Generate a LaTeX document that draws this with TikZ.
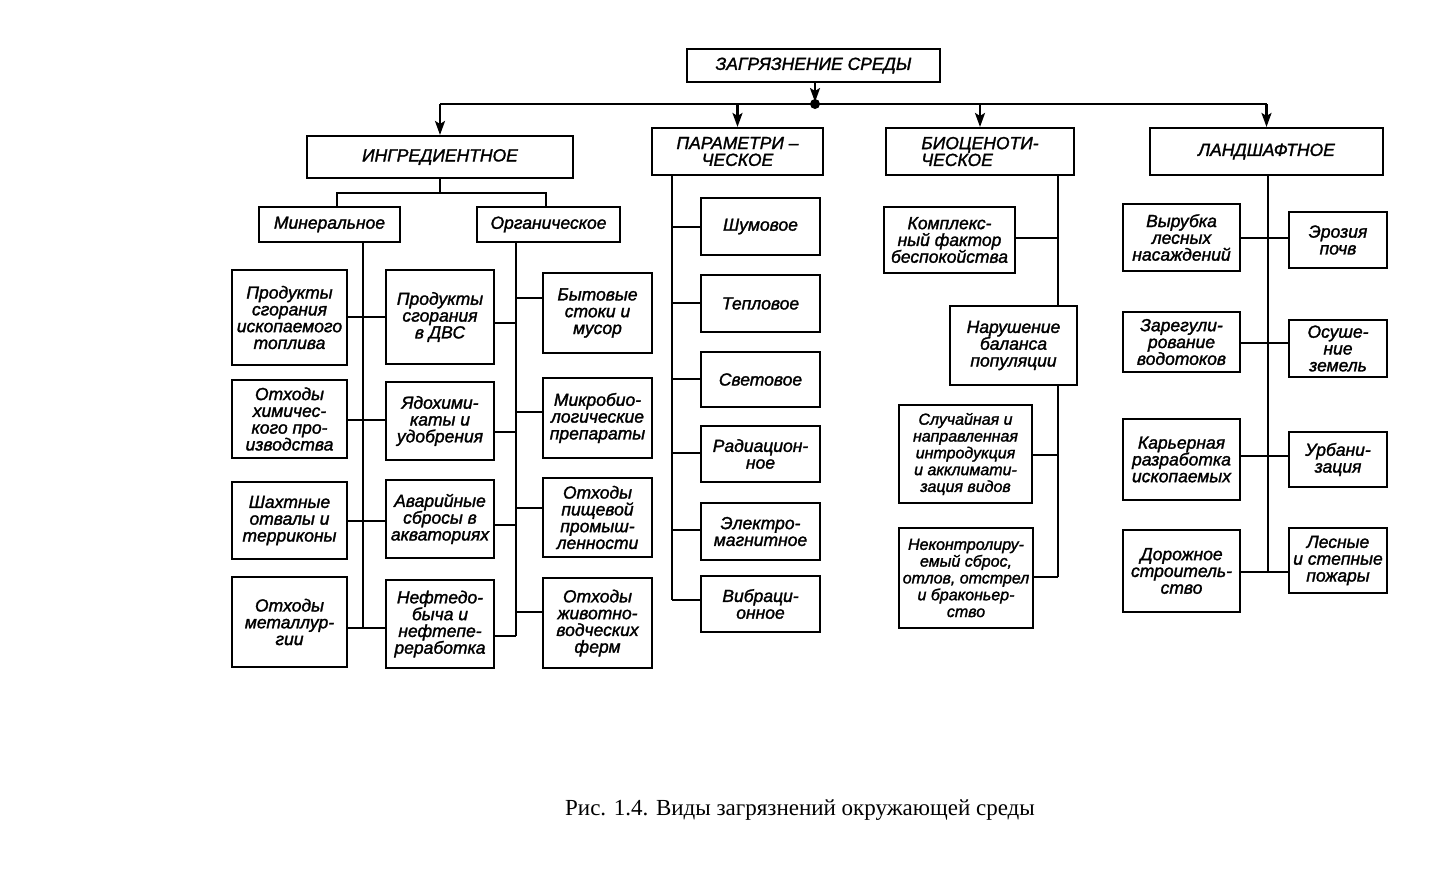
\documentclass[tikz,border=0pt]{standalone}
\usepackage{fontspec}
\setmainfont{Liberation Serif}
\newfontfamily\diag{Liberation Sans Italic}[FakeBold=1.6]
\usetikzlibrary{arrows.meta}
\newcommand\mybox[7][]{\node[bx,#1,minimum width={(#5-#3)*1pt},minimum height={(#6-#4)*1pt}] (#2) at ({(#3+#5)/2},{(#4+#6)/2}) {#7};}
\begin{document}
\begin{tikzpicture}[x=1pt,y=-1pt,
 bx/.style={draw, line width=2.1pt, inner sep=0pt, align=center, font=\diag\fontsize{17.5}{16.8}\selectfont},
 small/.style={font=\diag\fontsize{16}{16.8}\selectfont},
 ln/.style={line width=2.1pt},
 ar/.style={line width=2.1pt, -{Stealth[length=14pt,width=10pt,inset=3pt]}}]
\useasboundingbox (0,0) rectangle (1429,879);
% level 0/1
\mybox{top}{687}{49}{940}{82}{ЗАГРЯЗНЕНИЕ СРЕДЫ}
\mybox{ing}{307}{136}{573}{178}{ИНГРЕДИЕНТНОЕ}
\mybox{par}{652}{128}{823}{175}{ПАРАМЕТРИ –\\ЧЕСКОЕ}
\mybox[align=left]{bio}{886}{128}{1074}{175}{БИОЦЕНОТИ-\\ЧЕСКОЕ}
\mybox{lan}{1150}{128}{1383}{175}{ЛАНДШАФТНОЕ}
% ingredient
\mybox{min}{259}{207}{400}{242}{Минеральное}
\mybox{org}{477}{207}{620}{242}{Органическое}
\mybox{l1}{232}{270}{347}{365}{Продукты\\сгорания\\ископаемого\\топлива}
\mybox{l2}{232}{380}{347}{458}{Отходы\\химичес-\\кого про-\\изводства}
\mybox{l3}{232}{482}{347}{559}{Шахтные\\отвалы и\\терриконы}
\mybox{l4}{232}{577}{347}{667}{Отходы\\металлур-\\гии}
\mybox{m1}{386}{270}{494}{364}{Продукты\\сгорания\\в ДВС}
\mybox{m2}{386}{382}{494}{460}{Ядохими-\\каты и\\удобрения}
\mybox{m3}{386}{480}{494}{558}{Аварийные\\сбросы в\\акваториях}
\mybox{m4}{386}{580}{494}{668}{Нефтедо-\\быча и\\нефтепе-\\реработка}
\mybox{r1}{543}{273}{652}{353}{Бытовые\\стоки и\\мусор}
\mybox{r2}{543}{378}{652}{458}{Микробио-\\логические\\препараты}
\mybox{r3}{543}{478}{652}{557}{Отходы\\пищевой\\промыш-\\ленности}
\mybox{r4}{543}{578}{652}{668}{Отходы\\животно-\\водческих\\ферм}
% parametric
\mybox{p1}{701}{198}{820}{255}{Шумовое}
\mybox{p2}{701}{275}{820}{332}{Тепловое}
\mybox{p3}{701}{352}{820}{407}{Световое}
\mybox{p4}{701}{426}{820}{482}{Радиацион-\\ное}
\mybox{p5}{701}{503}{820}{560}{Электро-\\магнитное}
\mybox{p6}{701}{576}{820}{632}{Вибраци-\\онное}
% biocenotic
\mybox{b1}{884}{207}{1015}{273}{Комплекс-\\ный фактор\\беспокойства}
\mybox{b2}{950}{306}{1077}{385}{Нарушение\\баланса\\популяции}
\mybox[small]{b3}{899}{405}{1032}{503}{Случайная и\\направленная\\интродукция\\и акклимати-\\зация видов}
\mybox[small]{b4}{899}{528}{1033}{628}{Неконтролиру-\\емый сброс,\\отлов, отстрел\\и браконьер-\\ство}
% landscape
\mybox{d1}{1123}{204}{1240}{271}{Вырубка\\лесных\\насаждений}
\mybox{d2}{1123}{312}{1240}{372}{Зарегули-\\рование\\водотоков}
\mybox{d3}{1123}{419}{1240}{500}{Карьерная\\разработка\\ископаемых}
\mybox{d4}{1123}{530}{1240}{612}{Дорожное\\строитель-\\ство}
\mybox{e1}{1289}{212}{1387}{268}{Эрозия\\почв}
\mybox{e2}{1289}{320}{1387}{377}{Осуше-\\ние\\земель}
\mybox{e3}{1289}{432}{1387}{487}{Урбани-\\зация}
\mybox{e4}{1289}{528}{1387}{593}{Лесные\\и степные\\пожары}
% top connectors
\coordinate (dot) at (815,104);
\draw[ar, shorten >=2pt] (dot |- top.south) -- (dot);
\fill (dot) circle (5pt);
\draw[ln] (ing.north |- dot) -- (lan.north |- dot);
\draw[ar] (ing.north |- dot) -- (ing.north);
\draw[ar] (par.north |- dot) -- (par.north);
\draw[ar] (bio.north |- dot) -- (bio.north);
\draw[ar] (lan.north |- dot) -- (lan.north);
% ingredient tree
\coordinate (ib) at (0,193);
\draw[ln] (ing.south) -- (ing.south |- ib);
\draw[ln] (337,0 |- min.north) -- (337,193) -- (546,193) -- (546,0 |- org.north);
\draw[ln] (363,0 |- min.south) -- (363,628);
\draw[ln] (l1.east |- 0,317) -- (m1.west |- 0,317);
\draw[ln] (l2.east |- 0,420) -- (m2.west |- 0,420);
\draw[ln] (l3.east |- 0,521) -- (m3.west |- 0,521);
\draw[ln] (l4.east |- 0,628) -- (m4.west |- 0,628);
\draw[ln] (516,0 |- org.south) -- (516,636);
\draw[ln] (m1.east |- 0,323) -- (516,323);
\draw[ln] (m2.east |- 0,432) -- (516,432);
\draw[ln] (m3.east |- 0,525) -- (516,525);
\draw[ln] (m4.east |- 0,636) -- (516,636);
\draw[ln] (516,298) -- (r1.west |- 0,298);
\draw[ln] (516,412) -- (r2.west |- 0,412);
\draw[ln] (516,508) -- (r3.west |- 0,508);
\draw[ln] (516,612) -- (r4.west |- 0,612);
% parametric tree
\draw[ln] (672,0 |- par.south) -- (672,600);
\foreach \n/\y in {p1/227,p2/303,p3/379,p4/453,p5/530,p6/600}
  \draw[ln] (672,\y) -- (\n.west |- 0,\y);
% biocenotic tree
\draw[ln] (1058,0 |- bio.south) -- (1058,0 |- b2.north);
\draw[ln] (1058,0 |- b2.south) -- (1058,577);
\draw[ln] (b1.east |- 0,238) -- (1058,238);
\draw[ln] (b3.east |- 0,455) -- (1058,455);
\draw[ln] (b4.east |- 0,577) -- (1058,577);
% landscape tree
\draw[ln] (1268,0 |- lan.south) -- (1268,572);
\draw[ln] (d1.east |- 0,238) -- (e1.west |- 0,238);
\draw[ln] (d2.east |- 0,343) -- (e2.west |- 0,343);
\draw[ln] (d3.east |- 0,456) -- (e3.west |- 0,456);
\draw[ln] (d4.east |- 0,572) -- (e4.west |- 0,572);
% caption
\node[font=\rmfamily\fontsize{23}{25}\selectfont] (cap) at (800,810) {Рис. 1.4. Виды загрязнений окружающей среды};
\end{tikzpicture}
\end{document}
